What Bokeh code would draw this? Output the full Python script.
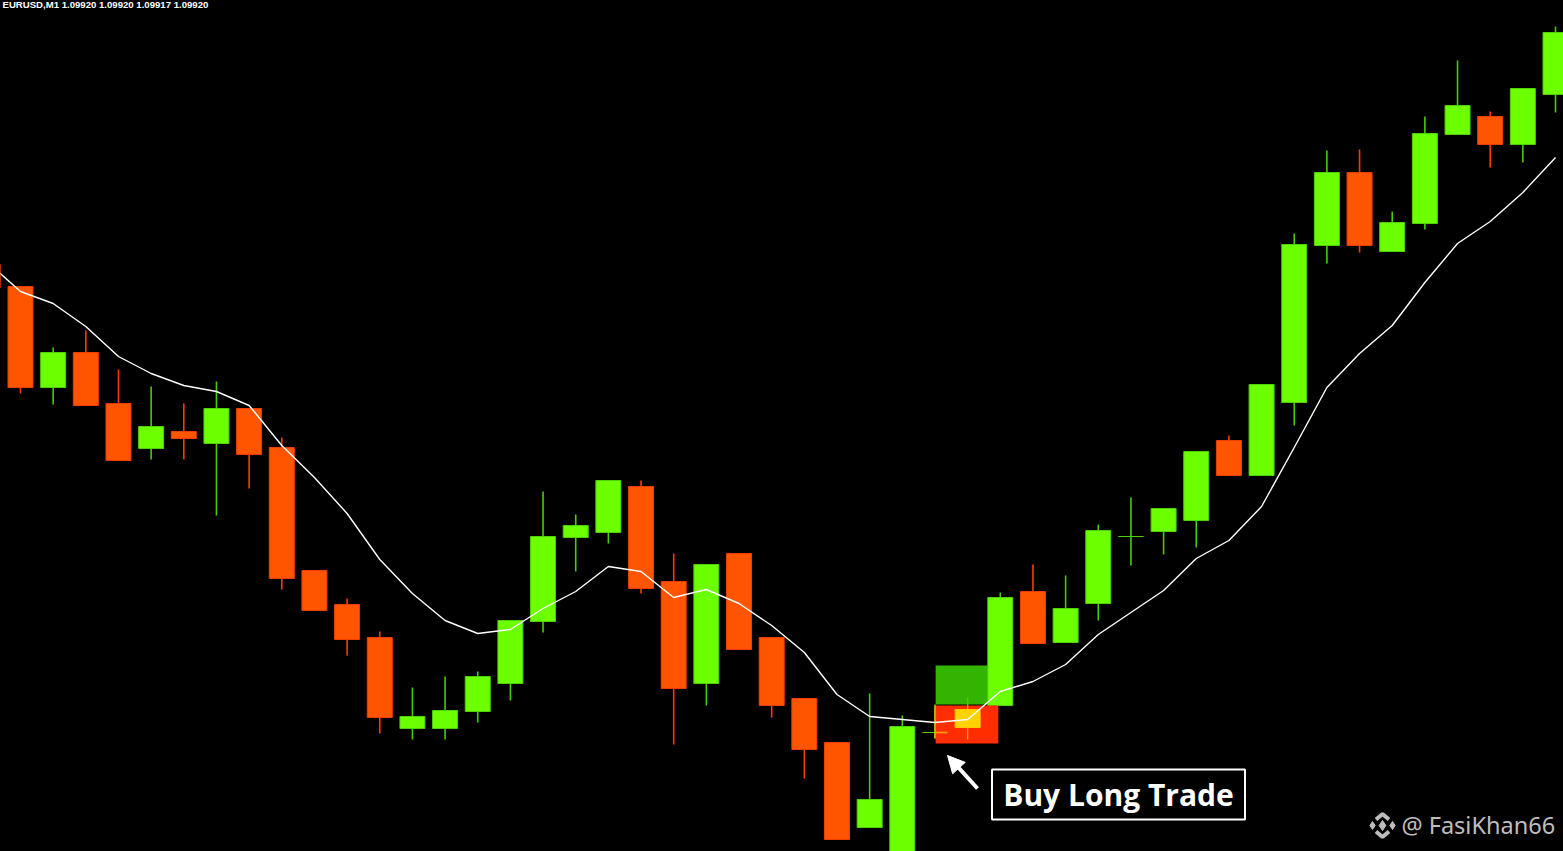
from bokeh.plotting import figure
from bokeh.embed import file_html
from bokeh.resources import INLINE
from bokeh.core.properties import value
from bokeh.models import Arrow, NormalHead, ColumnDataSource

# --- chart data: EURUSD M1, one candle per minute (index -1 is the cut-off first candle) ---
SYMBOL = "EURUSD,M1"
QUOTE = ["1.09920", "1.09920", "1.09917", "1.09920"]
candle_index = list(range(-1, 48))
opens = [1.09688,1.09666,1.09565,1.09600,1.09549,1.09504,1.09521,1.09509,1.09544,1.09505,
         1.09382,1.09348,1.09315,1.09224,1.09224,1.09241,1.09269,1.09331,1.09415,1.09420,
         1.09466,1.09371,1.09269,1.09399,1.09315,1.09254,1.09210,1.09125,1.09072,1.09220,
         1.09225,1.09247,1.09361,1.09310,1.09349,1.09416,1.09421,1.09432,1.09512,1.09477,
         1.09550,1.09707,1.09780,1.09701,1.09729,1.09818,1.09836,1.09808,1.09858]
closes = [1.09665,1.09565,1.09600,1.09547,1.09492,1.09526,1.09514,1.09544,1.09498,1.09374,
          1.09342,1.09313,1.09235,1.09236,1.09242,1.09276,1.09332,1.09416,1.09427,1.09472,
          1.09364,1.09264,1.09388,1.09303,1.09247,1.09203,1.09113,1.09153,1.09226,1.09220,
          1.09243,1.09355,1.09309,1.09344,1.09422,1.09416,1.09444,1.09501,1.09477,1.09568,
          1.09708,1.09780,1.09707,1.09730,1.09819,1.09847,1.09808,1.09864,1.09920]
highs = [1.09688,1.09666,1.09605,1.09622,1.09583,1.09566,1.09549,1.09571,1.09544,1.09515,
         1.09382,1.09354,1.09321,1.09265,1.09276,1.09281,1.09332,1.09461,1.09438,1.09472,
         1.09472,1.09399,1.09388,1.09399,1.09315,1.09254,1.09210,1.09259,1.09237,1.09248,
         1.09255,1.09360,1.09388,1.09377,1.09428,1.09455,1.09444,1.09501,1.09517,1.09568,
         1.09719,1.09802,1.09803,1.09741,1.09836,1.09892,1.09841,1.09864,1.09926]
lows = [1.09665,1.09559,1.09548,1.09547,1.09492,1.09493,1.09493,1.09437,1.09464,1.09363,
        1.09342,1.09297,1.09219,1.09213,1.09213,1.09230,1.09252,1.09320,1.09381,1.09409,
        1.09359,1.09208,1.09247,1.09303,1.09235,1.09174,1.09113,1.09125,1.09072,1.09214,
        1.09213,1.09247,1.09309,1.09310,1.09332,1.09387,1.09398,1.09405,1.09477,1.09477,
        1.09527,1.09689,1.09700,1.09701,1.09723,1.09818,1.09785,1.09790,1.09840]
moving_average = [1.09690,1.09661,1.09649,1.09626,1.09596,1.09579,1.09567,1.09561,1.09547,1.09507,
                  1.09475,1.09439,1.09393,1.09359,1.09332,1.09319,1.09323,1.09344,1.09361,1.09386,
                  1.09381,1.09355,1.09363,1.09349,1.09327,1.09300,1.09258,1.09236,1.09233,1.09230,
                  1.09233,1.09261,1.09271,1.09288,1.09318,1.09340,1.09362,1.09394,1.09412,1.09446,
                  1.09505,1.09565,1.09599,1.09627,1.09670,1.09709,1.09731,1.09760,1.09795]
# trade zones
buy_zone = (1.09287, 1.09248)     # top, bottom
stop_zone = (1.09247, 1.09209)
zone_span = (28.02, 29.94)
zone_candles = [28, 29]           # candles tinted by the stop zone
LABEL = "Buy Long Trade"
WATERMARK = "@ FasiKhan66"

BULL, BEAR = "#6bff00", "#ff5500"
BULL_EDGE, BEAR_EDGE = "#4fd000", "#f03c00"
BULL_WICK, BEAR_WICK = "#48cc00", "#ff3a00"

W, H = 1563, 851
X0, DX = 20.0, 32.66
Y_TOP, PER_PX = 1.09952, 1e-5

def fx(px):
    return (px - X0) / DX

def fy(py):
    return Y_TOP - py * PER_PX

p = figure(width=W, height=H, output_backend="svg", toolbar_location=None,
           x_range=(fx(0), fx(W)), y_range=(fy(H), fy(0)),
           min_border=0, min_border_left=0, min_border_right=0, min_border_top=0, min_border_bottom=0,
           background_fill_color="black", border_fill_color="black", outline_line_color=None)
p.xaxis.visible = False
p.yaxis.visible = False
p.grid.visible = False

up = [c >= o for o, c in zip(opens, closes)]
src = ColumnDataSource(dict(
    x=candle_index, o=opens, c=closes, h=highs, l=lows,
    fill=[BULL if u else BEAR for u in up],
    edge=[BULL_EDGE if u else BEAR_EDGE for u in up],
    wick=[BULL_WICK if u else BEAR_WICK for u in up]))

BODY = 0.765
# zones behind the candles
p.quad(left=zone_span[0], right=zone_span[1], top=buy_zone[0], bottom=buy_zone[1],
       fill_color="#33b400", line_color=None)

p.segment("x", "h", "x", "l", source=src, line_color="wick", line_width=1.6)
p.vbar("x", BODY, "o", "c", source=src, fill_color="fill", line_color="edge", line_width=1)

# stop zone and the candles tinted by it
p.quad(left=zone_span[0], right=zone_span[1], top=stop_zone[0], bottom=stop_zone[1],
       fill_color="#ff2d00", line_color=None)
for i in zone_candles:
    k = candle_index.index(i)
    p.segment(i, min(highs[k], stop_zone[0]), i, max(lows[k], stop_zone[1]),
              line_color="#ffb000", line_width=1.3)
    if opens[k] != closes[k]:
        p.vbar(i, BODY, opens[k], closes[k], fill_color="#ffd200", line_color="#ffc800", line_width=1)
    else:
        p.segment(zone_span[0], opens[k], i + BODY / 2, opens[k], line_color="#ffa000", line_width=1.6)

p.line(candle_index, moving_average, line_color="white", line_width=1.4)

# header
p.text([fx(2)], [fy(3.5)], text=[SYMBOL + "  " + " ".join(QUOTE)], text_color="white",
       text_font=value("Liberation Sans"), text_font_size="9.6px", text_font_style="bold",
       text_baseline="alphabetic", text_align="left")

# arrow
p.add_layout(Arrow(x_start=fx(977), y_start=fy(788), x_end=fx(947), y_end=fy(755),
                   line_color="white", line_width=4,
                   end=NormalHead(size=17, fill_color="white", line_color="white", line_width=1)))

# label box
p.quad(left=fx(991.5), right=fx(1244.5), top=fy(769), bottom=fy(819), fill_color="black",
       line_color="white", line_width=2)
p.text([fx(1118)], [fy(793.5)], text=[LABEL], text_color="white", text_font=value("Open Sans"),
       text_font_size="30px", text_font_style="bold", text_align="center", text_baseline="middle")

# watermark
GREY = "#bdbdbd"
p.text([fx(1401)], [fy(824)], text=[WATERMARK], text_color=GREY, text_font=value("Noto Sans"),
       text_font_size="23.5px", text_align="left", text_baseline="middle")
p.scatter([fx(1382), fx(1372), fx(1392)], [fy(825)] * 3, marker="diamond", size=[10, 8, 8], color=GREY)
p.multi_line([[fx(1375.5), fx(1382), fx(1388.5)], [fx(1375.5), fx(1382), fx(1388.5)]],
             [[fy(819), fy(813.5), fy(819)], [fy(831), fy(836.5), fy(831)]],
             line_color=GREY, line_width=4)

html = file_html(p, INLINE)
html = html.replace("<head>", "<head><style>html,body{margin:0;padding:0;background:#000;overflow:hidden}</style>", 1)
open("out.html", "w").write(html)
